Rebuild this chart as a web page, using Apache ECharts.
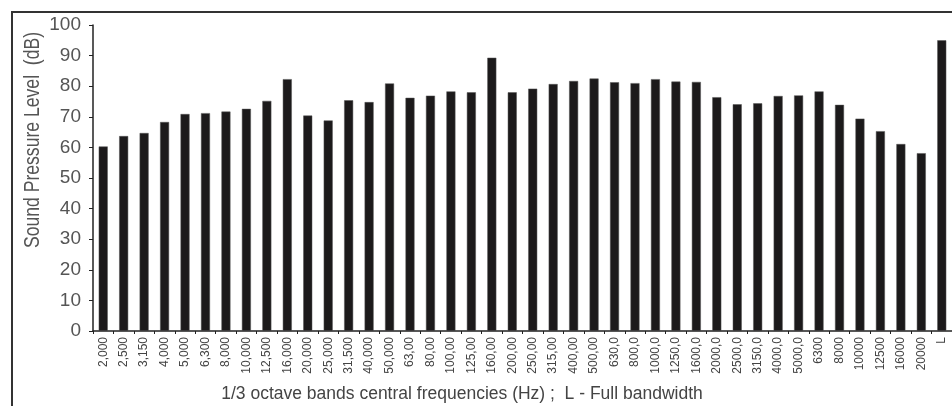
<!DOCTYPE html>
<html>
<head>
<meta charset="utf-8">
<script src="https://cdn.jsdelivr.net/npm/echarts@6/dist/echarts.min.js"></script>
<style>
  html, body { margin: 0; padding: 0; background: #fff; }
  #chart { width: 952px; height: 406px; }
</style>
</head>
<body>
<div id="chart"></div>
<script>
// 1/3 octave band labels, as printed on the figure
const bands = [
  '2,000', '2,500', '3,150', '4,000', '5,000', '6,300', '8,000', '10,000', '12,500', '16,000',
  '20,000', '25,000', '31,500', '40,000', '50,000', '63,00', '80,00', '100,00', '125,00', '160,00',
  '200,00', '250,00', '315,00', '400,00', '500,00', '630,0', '800,0', '1000,0', '1250,0', '1600,0',
  '2000,0', '2500,0', '3150,0', '4000,0', '5000,0', '6300', '8000', '10000', '12500', '16000',
  '20000', 'L'
]

// sound pressure level per band (dB)
const levels = [
  60.3, 63.7, 64.7, 68.3, 70.9, 71.2, 71.7, 72.6, 75.2, 82.3,
  70.4, 68.8, 75.4, 74.8, 80.9, 76.2, 76.9, 78.3, 78.0, 89.3,
  78.0, 79.2, 80.7, 81.7, 82.5, 81.3, 81.0, 82.3, 81.5, 81.4,
  76.4, 74.1, 74.4, 76.8, 77.0, 78.3, 73.9, 69.4, 65.3, 61.1,
  58.1, 95.0
]

const yTicks = [0, 10, 20, 30, 40, 50, 60, 70, 80, 90, 100]

const yTitle = 'Sound Pressure Level  (dB)'
const xTitle = '1/3 octave bands central frequencies (Hz) ;  L - Full bandwidth'

const chart = echarts.init(document.getElementById('chart'))

const option = {
  backgroundColor: '#ffffff',
  animation: false,
  grid: {
    left: 93,
    right: -8,
    top: 25,
    bottom: 75
  },
  xAxis: {
    type: 'category',
    data: bands,
    axisLine: { lineStyle: { color: '#222', width: 1.5 } },
    axisTick: { show: true, length: 3, lineStyle: { color: '#222' } },
    axisLabel: {
      interval: 0,
      rotate: 90,
      margin: 6,
      color: '#444',
      fontFamily: 'Liberation Sans, Arial',
      fontSize: 12
    }
  },
  yAxis: {
    type: 'value',
    min: yTicks[0],
    max: yTicks[yTicks.length - 1],
    interval: 10,
    splitLine: { show: false },
    axisLine: { show: true, lineStyle: { color: '#222', width: 1.5 } },
    axisTick: { show: true, length: 4, lineStyle: { color: '#222' } },
    axisLabel: {
      margin: 12,
      color: '#555',
      fontFamily: 'Liberation Sans, Arial',
      fontSize: 19
    }
  },
  graphic: [
    {
      type: 'rect',
      shape: { x: 12, y: 12, width: 1200, height: 600 },
      style: { fill: 'none', stroke: '#333', lineWidth: 2 },
      silent: true
    },
    {
      type: 'text',
      x: 33,
      y: 140,
      rotation: Math.PI / 2,
      scaleX: 0.8,
      style: {
        text: yTitle,
        fill: '#555',
        font: '22px "Liberation Sans", Arial',
        align: 'center',
        verticalAlign: 'middle'
      }
    },
    {
      type: 'text',
      x: 462,
      y: 394,
      style: {
        text: xTitle,
        fill: '#444',
        font: '17.5px "Liberation Sans", Arial',
        align: 'center',
        verticalAlign: 'middle'
      }
    }
  ],
  series: [
    {
      type: 'bar',
      data: levels,
      barWidth: 9,
      itemStyle: { color: '#1c1a1b', borderColor: '#555', borderWidth: 0.5 }
    }
  ]
}

chart.setOption(option)
</script>
</body>
</html>
